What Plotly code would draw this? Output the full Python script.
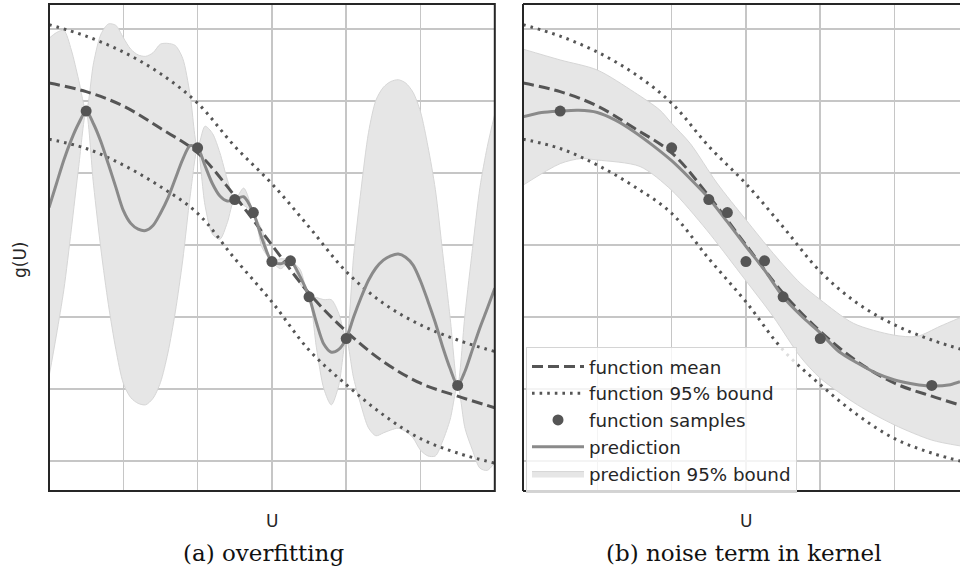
import plotly.graph_objects as go

# ---------------- shared data (both panels) ----------------
mean_u = [0, 0.5, 1, 1.5, 2, 2.5, 3, 3.5, 4, 4.5, 5, 5.5, 6]
mean_v = [5.25, 5.13, 4.93, 4.62, 4.28, 3.68, 3.0, 2.33, 1.8, 1.38, 1.08, 0.9, 0.74]
bound_hi = [6.06, 5.9, 5.68, 5.38, 4.97, 4.37, 3.85, 3.25, 2.63, 2.19, 1.89, 1.68, 1.52]
bound_lo = [4.47, 4.34, 4.11, 3.81, 3.44, 2.81, 2.21, 1.54, 1.06, 0.64, 0.31, 0.11, -0.03]
sample_u = [0.5, 2.0, 2.5, 2.75, 3.0, 3.25, 3.5, 4.0, 5.5]
sample_v = [4.86, 4.35, 3.63, 3.45, 2.77, 2.78, 2.28, 1.70, 1.05]

# ---------------- (a) overfitting: prediction and half width ----------------
a_u = [0.0, 0.1, 0.2, 0.3, 0.4, 0.5, 0.6, 0.7, 0.8, 0.9, 1.0, 1.1, 1.2, 1.3, 1.4, 1.5,
       1.6, 1.7, 1.8, 1.9, 2.0, 2.1, 2.2, 2.3, 2.4, 2.5, 2.62, 2.75, 2.87, 3.0, 3.12,
       3.25, 3.38, 3.5, 3.6, 3.7, 3.8, 3.9, 4.0, 4.1, 4.2, 4.3, 4.4, 4.5, 4.6, 4.7,
       4.8, 4.9, 5.0, 5.1, 5.2, 5.3, 5.4, 5.5, 5.6, 5.7, 5.8, 5.9, 6.0]
a_pred = [3.52, 3.85, 4.18, 4.46, 4.69, 4.86, 4.68, 4.43, 4.12, 3.80, 3.48, 3.30, 3.22,
          3.20, 3.27, 3.44, 3.65, 3.92, 4.19, 4.38, 4.35, 4.10, 3.85, 3.68, 3.61, 3.63,
          3.67, 3.45, 3.08, 2.77, 2.74, 2.78, 2.56, 2.28, 1.92, 1.62, 1.51, 1.55, 1.70,
          2.00, 2.27, 2.51, 2.68, 2.79, 2.85, 2.875, 2.83, 2.72, 2.50, 2.22, 1.92, 1.58,
          1.28, 1.05, 1.25, 1.55, 1.85, 2.12, 2.40]
a_hw = [2.35, 2.10, 1.80, 1.25, 0.60, 0.00, 0.85, 1.50, 1.95, 2.25, 2.40, 2.42, 2.42,
        2.42, 2.40, 2.35, 2.15, 1.85, 1.40, 0.70, 0.00, 0.55, 0.70, 0.60, 0.30, 0.00,
        0.12, 0.00, 0.12, 0.00, 0.07, 0.00, 0.10, 0.00, 0.35, 0.62, 0.73, 0.50, 0.00,
        0.85, 1.50, 2.05, 2.33, 2.40, 2.42, 2.42, 2.42, 2.40, 2.35, 2.15, 1.85, 1.30,
        0.70, 0.00, 0.80, 1.40, 1.95, 2.25, 2.42]

# ---------------- (b) noise term in kernel ----------------
b_pred_u = [0, 0.25, 0.5, 0.75, 1.0, 1.25, 1.5, 1.75, 2.0, 2.25, 2.5, 2.75, 3.0, 3.25,
            3.5, 3.75, 4.0, 4.25, 4.5, 4.75, 5.0, 5.25, 5.5, 5.75, 5.88]
b_pred_v = [4.78, 4.84, 4.86, 4.87, 4.84, 4.73, 4.57, 4.38, 4.17, 3.92, 3.65, 3.32, 2.98,
            2.65, 2.28, 2.01, 1.78, 1.52, 1.36, 1.22, 1.125, 1.07, 1.04, 1.06, 1.10]
b_hi_u = [0, 0.5, 1.0, 1.5, 1.84, 2.0, 2.25, 2.61, 3.0, 3.37, 3.73, 4.0, 4.45, 4.98,
          5.3, 5.61, 5.88]
b_hi_v = [5.72, 5.57, 5.43, 5.12, 4.875, 4.69, 4.41, 3.86, 3.35, 2.88, 2.47, 2.24, 1.91,
          1.75, 1.73, 1.87, 1.99]
b_lo_u = [0, 0.5, 0.78, 1.0, 1.575, 2.0, 2.47, 2.92, 3.37, 3.73, 4.0, 4.5, 5.0, 5.5, 5.88]
b_lo_v = [3.83, 4.13, 4.2, 4.18, 4.09, 3.76, 3.21, 2.61, 2.0, 1.45, 1.15, 0.78, 0.5, 0.29, 0.21]

# ---------------- styles ----------------
DARK = "#555555"
PRED = "#8a8a8a"
BAND = "#e6e6e6"
BAND_EDGE = "#d6d6d6"
GRID = "#c6c6c6"
AXC = "#262626"
FONT = "DejaVu Sans"

fig = go.Figure()


def add_panel(xa, ya, lo_x, lo_y, hi_x, hi_y, pred_x, pred_y, show):
    fig.add_trace(go.Scatter(
        x=lo_x, y=lo_y, mode="lines",
        line=dict(color=BAND_EDGE, width=1, shape="spline", smoothing=0.8),
        showlegend=False, legendgroup="e", xaxis=xa, yaxis=ya, hoverinfo="skip"))
    fig.add_trace(go.Scatter(
        x=hi_x, y=hi_y, mode="lines", fill="tonexty", fillcolor=BAND,
        line=dict(color=BAND_EDGE, width=1, shape="spline", smoothing=0.8),
        name="prediction 95% bound", showlegend=show, legendrank=5,
        legendgroup="e", xaxis=xa, yaxis=ya, hoverinfo="skip"))
    fig.add_trace(go.Scatter(
        x=mean_u, y=bound_hi, mode="lines",
        line=dict(color=DARK, width=3, dash="2.6px,5px", shape="spline"),
        name="function 95% bound", showlegend=show, legendrank=2,
        legendgroup="b", xaxis=xa, yaxis=ya))
    fig.add_trace(go.Scatter(
        x=mean_u, y=bound_lo, mode="lines",
        line=dict(color=DARK, width=3, dash="2.6px,5px", shape="spline"),
        name="function 95% bound", showlegend=False, legendgroup="b",
        xaxis=xa, yaxis=ya))
    fig.add_trace(go.Scatter(
        x=mean_u, y=mean_v, mode="lines",
        line=dict(color=DARK, width=3, dash="11px,5px", shape="spline"),
        name="function mean", showlegend=show, legendrank=1,
        legendgroup="a", xaxis=xa, yaxis=ya))
    fig.add_trace(go.Scatter(
        x=pred_x, y=pred_y, mode="lines",
        line=dict(color=PRED, width=3, shape="spline", smoothing=0.8),
        name="prediction", showlegend=show, legendrank=4,
        legendgroup="d", xaxis=xa, yaxis=ya))
    fig.add_trace(go.Scatter(
        x=sample_u, y=sample_v, mode="markers",
        marker=dict(color=DARK, size=11),
        name="function samples", showlegend=show, legendrank=3,
        legendgroup="c", xaxis=xa, yaxis=ya))


# panel (a) band edges
a_hi = [p + w for p, w in zip(a_pred, a_hw)]
a_lo = [p - w for p, w in zip(a_pred, a_hw)]
add_panel("x", "y", a_u, a_lo, a_u, a_hi, a_u, a_pred, False)
# panel (b)
add_panel("x2", "y2", b_lo_u, b_lo_v, b_hi_u, b_hi_v, b_pred_u, b_pred_v, True)

ax_common = dict(showticklabels=False, ticks="", showgrid=True, gridcolor=GRID,
                 gridwidth=1.6, zeroline=False, showline=False, fixedrange=True)
xd1 = [49 / 960, 494.8 / 960]
xd2 = [523 / 960, 1.0]
yd = [(579 - 491) / 579, (579 - 4) / 579]
yr = [-0.417, 6.347]

fig.update_layout(
    width=960, height=579, margin=dict(l=0, r=0, t=0, b=0),
    paper_bgcolor="white", plot_bgcolor="white",
    xaxis=dict(domain=xd1, range=[0, 6], tickvals=[1, 2, 3, 4, 5], **ax_common),
    yaxis=dict(domain=yd, range=yr, tickvals=[0, 1, 2, 3, 4, 5, 6], **ax_common),
    xaxis2=dict(domain=xd2, range=[0, 5.88], tickvals=[1, 2, 3, 4, 5], anchor="y2",
                **ax_common),
    yaxis2=dict(domain=yd, range=yr, tickvals=[0, 1, 2, 3, 4, 5, 6], anchor="x2",
                **ax_common),
    legend=dict(x=526 / 960, y=(579 - 347) / 579, xanchor="left", yanchor="top",
                bgcolor="rgba(255,255,255,0.8)", bordercolor="#d4d4d4", borderwidth=1,
                font=dict(family=FONT, size=18.3, color=AXC), tracegroupgap=0,
                itemwidth=52, traceorder="normal"),
    showlegend=True,
)

# borders
shapes = [
    dict(type="rect", xref="paper", yref="paper", x0=xd1[0], x1=xd1[1], y0=yd[0],
         y1=yd[1], line=dict(color=AXC, width=2)),
    dict(type="line", xref="paper", yref="paper", x0=xd2[0], x1=xd2[0], y0=yd[0],
         y1=yd[1], line=dict(color=AXC, width=2)),
    dict(type="line", xref="paper", yref="paper", x0=xd2[0], x1=1.0, y0=yd[1],
         y1=yd[1], line=dict(color=AXC, width=2)),
    dict(type="line", xref="paper", yref="paper", x0=xd2[0], x1=1.0, y0=yd[0],
         y1=yd[0], line=dict(color=AXC, width=2)),
]
fig.update_layout(shapes=shapes)

ann = [
    dict(text="g(U)", x=20 / 960, y=(579 - 260) / 579, textangle=-90,
         font=dict(family=FONT, size=17, color=AXC)),
    dict(text="U", x=272 / 960, y=(579 - 521) / 579,
         font=dict(family=FONT, size=17, color=AXC)),
    dict(text="U", x=746 / 960, y=(579 - 521) / 579,
         font=dict(family=FONT, size=17, color=AXC)),
    dict(text="(a) overfitting", x=263 / 960, y=(579 - 553) / 579,
         font=dict(family="DejaVu Serif", size=23, color="#111111")),
    dict(text="(b) noise term in kernel", x=744 / 960, y=(579 - 553) / 579,
         font=dict(family="DejaVu Serif", size=23, color="#111111")),
]
for a in ann:
    a.update(xref="paper", yref="paper", showarrow=False, xanchor="center",
             yanchor="middle")
fig.update_layout(annotations=ann)

fig.write_html(
    "out.html",
    config={"displayModeBar": False, "staticPlot": True},
    post_script="document.body.style.margin='0px';"
                "document.documentElement.style.overflow='hidden';",
)
